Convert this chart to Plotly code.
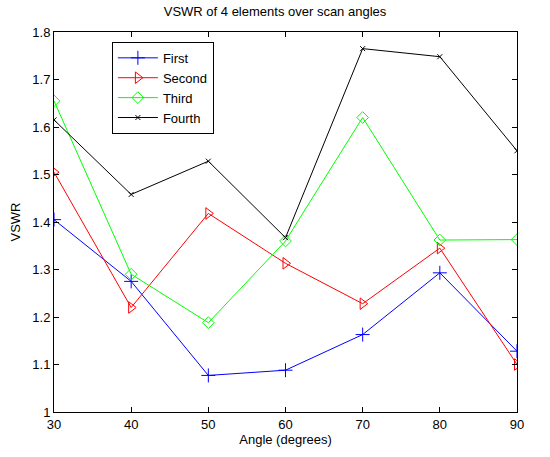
import plotly.graph_objects as go

angles = [30, 40, 50, 60, 70, 80, 90]
first = [1.405, 1.275, 1.077, 1.088, 1.163, 1.293, 1.128]
second = [1.505, 1.220, 1.418, 1.313, 1.228, 1.345, 1.100]
third = [1.655, 1.290, 1.188, 1.360, 1.620, 1.362, 1.363]
fourth = [1.615, 1.458, 1.528, 1.367, 1.765, 1.748, 1.550]

series = [
    ("First", first, "#0000ff", "cross-thin", 10),
    ("Second", second, "#ff0000", "triangle-right-open", 10),
    ("Third", third, "#00ff00", "diamond-open", 9),
    ("Fourth", fourth, "#000000", "x-thin", 5),
]

fig = go.Figure()
for name, vals, col, sym, size in series:
    fig.add_trace(go.Scatter(
        x=angles, y=vals, name=name, mode="lines+markers",
        line=dict(color=col, width=1),
        marker=dict(symbol=sym, size=size, color=col,
                    line=dict(color=col, width=1)),
    ))

font = "Liberation Sans, Arial"
axis_common = dict(
    showgrid=False, zeroline=False, showline=True, mirror="ticks",
    linecolor="black", linewidth=1, ticks="inside", ticklen=5,
    tickcolor="black", tickfont=dict(family=font, size=13, color="black"),
)

fig.update_layout(
    width=550, height=457,
    margin=dict(l=54, r=33, t=32, b=41),
    paper_bgcolor="white", plot_bgcolor="white",
    title=dict(text="VSWR of 4 elements over scan angles", x=0.5, xanchor="center",
               y=0.985, yanchor="top",
               font=dict(family=font, size=13, color="black")),
    xaxis=dict(range=[30, 90], dtick=10, title=dict(text="Angle (degrees)", standoff=4,
               font=dict(family=font, size=13, color="black")), **axis_common),
    yaxis=dict(range=[1, 1.8], dtick=0.1, tickformat="~g", title=dict(text="VSWR", standoff=8,
               font=dict(family=font, size=13, color="black")), **axis_common),
    legend=dict(x=0.125, y=0.974, xanchor="left", yanchor="top",
                bordercolor="black", borderwidth=1, bgcolor="white",
                font=dict(family=font, size=13, color="black"),
                itemwidth=40, tracegroupgap=0),
    showlegend=True,
)

fig.write_html("out.html")
